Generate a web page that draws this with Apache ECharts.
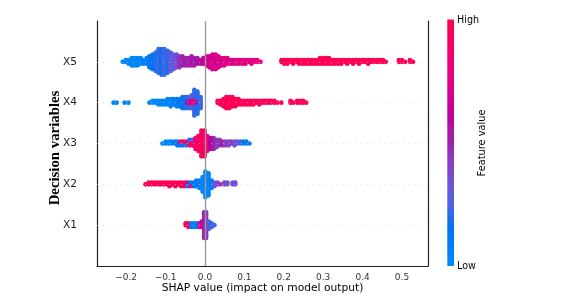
<!DOCTYPE html>
<html>
<head>
<meta charset="utf-8">
<script src="https://cdn.jsdelivr.net/npm/echarts@6/dist/echarts.min.js"></script>
<style>
html,body{margin:0;padding:0;background:#fff;}
#chart{width:564px;height:304px;}
</style>
</head>
<body>
<div id="chart"></div>
<script>
// ---------- data ----------
const features = ['X1', 'X2', 'X3', 'X4', 'X5'];
const xTickValues = [-0.2, -0.1, 0, 0.1, 0.2, 0.3, 0.4, 0.5];
const xTickLabels = ['\u22120.2', '\u22120.1', '0.0', '0.1', '0.2', '0.3', '0.4', '0.5'];
const colorbarLabels = ['Low', 'High'];

// bins: [SHAP value, number of samples, feature value (0 = low, 1 = high)]
const x5Bins = [
  [-0.209,1,0.02],[-0.201,2,0.02],[-0.194,3,0.03],[-0.186,5,0.02],[-0.179,5,0.03],[-0.171,5,0.04],
  [-0.163,4,0.05],[-0.156,3,0.06],[-0.148,4,0.08],[-0.141,7,0.12],[-0.133,9,0.15],[-0.125,11,0.2],
  [-0.118,14,0.22],[-0.110,15,0.16],[-0.103,15,0.26],[-0.095,13,0.2],[-0.087,11,0.28],[-0.080,9,0.3],
  [-0.072,8,0.36],[-0.065,7,0.45],[-0.057,6,0.5],[-0.049,5,0.52],[-0.042,5,0.5],[-0.034,6,0.55],
  [-0.027,5,0.52],[-0.019,4,0.55],[-0.011,3,0.58],[-0.004,4,0.64],[0.004,6,0.68],[0.011,7,0.7],
  [0.019,9,0.7],[0.027,9,0.71],[0.034,7,0.72],[0.042,5,0.72],[0.049,5,0.74],[0.057,4,0.74],
  [0.065,3,0.75],[0.072,3,0.76],[0.080,3,0.76],[0.087,3,0.77],[0.095,3,0.78],[0.103,3,0.78],
  [0.110,2,0.79],[0.118,3,0.8],[0.125,2,0.8],[0.133,2,0.82],[0.141,1,0.82],
  [0.194,2,0.97],[0.201,3,0.98],[0.209,3,0.97],[0.216,2,0.98],[0.224,3,0.97],[0.232,2,0.98],
  [0.239,3,0.97],[0.247,3,0.98],[0.254,3,0.97],[0.262,3,0.98],[0.270,3,0.97],[0.277,3,0.98],
  [0.285,3,0.97],[0.292,4,0.98],[0.300,4,0.97],[0.308,4,0.98],[0.315,4,0.97],[0.323,3,0.98],
  [0.330,3,0.97],[0.338,3,0.98],[0.346,3,0.97],[0.353,2,0.98],[0.361,3,0.97],[0.368,2,0.98],
  [0.376,3,0.97],[0.383,2,0.98],[0.391,3,0.97],[0.399,2,0.98],[0.406,2,0.97],[0.414,3,0.98],
  [0.422,2,0.97],[0.429,2,0.98],[0.437,2,0.97],[0.444,2,0.98],[0.452,2,0.97],[0.459,1,0.98],
  [0.492,2,0.97],[0.500,2,0.98],[0.508,1,0.97],[0.520,2,0.98],[0.528,1,0.97]
];
const x4Bins = [
  [-0.232,1,0.04],[-0.224,1,0.04],[-0.204,1,0.04],[-0.194,1,0.05],
  [-0.141,1,0.03],[-0.133,2,0.03],[-0.125,2,0.04],[-0.118,3,0.03],[-0.110,3,0.04],[-0.103,3,0.05],
  [-0.095,4,0.05],[-0.087,5,0.06],[-0.080,4,0.08],[-0.072,5,0.1],[-0.065,5,0.12],[-0.057,7,0.15],
  [-0.049,7,0.2],[-0.042,7,0.22],[-0.034,8,0.25],[-0.027,15,0.22],[-0.019,13,0.2],[-0.011,7,0.22],
  [-0.045,1,0.6],[-0.038,2,0.72],[-0.030,2,0.85],[-0.023,1,0.55],
  [0.032,2,0.97],[0.039,3,0.98],[0.047,5,0.97],[0.054,7,0.98],[0.062,7,0.97],[0.070,6,0.98],
  [0.077,5,0.97],[0.085,4,0.98],[0.092,3,0.97],[0.100,3,0.98],[0.108,3,0.97],[0.115,3,0.98],
  [0.123,3,0.97],[0.130,2,0.98],[0.138,3,0.97],[0.146,2,0.98],[0.153,2,0.97],[0.161,2,0.98],
  [0.168,2,0.97],[0.176,2,0.98],[0.184,1,0.97],[0.194,1,0.98],
  [0.217,2,0.97],[0.224,1,0.98],[0.234,2,0.97],[0.242,2,0.98],[0.249,2,0.97],[0.257,1,0.98]
];
const x3Bins = [
  [-0.108,1,0.04],[-0.100,2,0.05],[-0.092,2,0.05],[-0.085,2,0.07],[-0.077,2,0.1],[-0.070,3,0.1],
  [-0.062,2,0.92],[-0.062,1,0.15],[-0.055,2,0.95],[-0.055,1,0.12],[-0.047,2,0.88],[-0.047,1,0.2],
  [-0.039,3,0.9],[-0.039,1,0.15],[-0.032,3,0.92],[-0.032,1,0.3],
  [-0.024,7,0.85],[-0.017,9,0.9],[-0.009,15,0.95],[-0.001,15,0.92],[0.006,9,0.85],
  [0.014,7,0.6],[0.022,7,0.5],[0.029,5,0.45],[0.037,4,0.45],[0.044,3,0.5],[0.052,3,0.4],
  [0.060,3,0.4],[0.067,2,0.45],[0.075,3,0.35],[0.082,2,0.3],[0.090,2,0.25],[0.098,2,0.15],
  [0.105,2,0.1],[0.113,1,0.08]
];
const x2Bins = [
  [-0.151,1,0.97],[-0.143,2,0.98],[-0.135,2,0.97],[-0.128,2,0.98],[-0.120,2,0.97],[-0.113,2,0.98],
  [-0.105,2,0.97],[-0.098,2,0.98],[-0.090,3,0.97],[-0.082,2,0.98],[-0.075,3,0.97],[-0.067,2,0.98],
  [-0.060,3,0.97],[-0.052,3,0.9],[-0.044,2,0.6],[-0.044,1,0.1],[-0.037,2,0.15],[-0.037,1,0.85],
  [-0.029,3,0.15],[-0.022,4,0.1],[-0.014,5,0.08],[-0.006,9,0.05],[0.001,15,0.03],[0.009,13,0.05],
  [0.017,5,0.1],[0.024,3,0.3],[0.032,2,0.4],[0.039,1,0.45],[0.049,2,0.4],[0.057,2,0.35],
  [0.070,2,0.3],[0.077,2,0.4]
];
const x1Bins = [
  [-0.049,2,0.97],[-0.042,3,0.9],[-0.034,3,0.1],[-0.027,3,0.08],[-0.019,3,0.12],[-0.013,3,0.8],
  [-0.008,4,0.65],[-0.002,15,0.5],[0.003,15,0.45],[0.010,5,0.3],[0.017,3,0.2],[0.024,1,0.25]
];
const rowBins = [x1Bins, x2Bins, x3Bins, x4Bins, x5Bins];

// ---------- SHAP red_blue colormap (Lch interpolation as in shap) ----------
function lch2rgb(L, C, h) {
  const a = C * Math.cos(h), b = C * Math.sin(h);
  const fy = (L + 16) / 116, fx = a / 500 + fy, fz = fy - b / 200;
  const inv = t => (t * t * t > 0.008856 ? t * t * t : (t - 16 / 116) / 7.787);
  const X = 0.95047 * inv(fx), Y = 1.0 * inv(fy), Z = 1.08883 * inv(fz);
  let r = 3.2404542 * X - 1.5371385 * Y - 0.4985314 * Z;
  let g = -0.9692660 * X + 1.8760108 * Y + 0.0415560 * Z;
  let bb = 0.0556434 * X - 0.2040259 * Y + 1.0572252 * Z;
  const gam = c => { c = c > 0.0031308 ? 1.055 * Math.pow(c, 1 / 2.4) - 0.055 : 12.92 * c; return Math.round(Math.min(1, Math.max(0, c)) * 255); };
  return 'rgb(' + gam(r) + ',' + gam(g) + ',' + gam(bb) + ')';
}
const blueLch = [54, 70, 4.6588], redLch = [54, 90, 0.35470565 + 2 * Math.PI], lMid = 40;
const cmap = [];
const NSTOP = 21;
for (let i = 0; i < NSTOP; i++) {
  const t = i / (NSTOP - 1);
  const L = t < 0.5 ? blueLch[0] + (lMid - blueLch[0]) * (t / 0.5) : lMid + (redLch[0] - lMid) * ((t - 0.5) / 0.5);
  const C = blueLch[1] + (redLch[1] - blueLch[1]) * t;
  const h = blueLch[2] + (redLch[2] - blueLch[2]) * t;
  cmap.push(lch2rgb(L, C, h));
}

// ---------- beeswarm layout (as in shap summary_plot) ----------
function swarm(bins, row) {
  const groups = new Map();
  bins.forEach(b => { if (!groups.has(b[0])) groups.set(b[0], []); groups.get(b[0]).push(b); });
  const pts = []; let maxLayer = 0;
  groups.forEach(list => {
    let layer = 0;
    list.forEach(([v, n, f]) => {
      for (let i = 0; i < n; i++) {
        const ys = Math.ceil(layer / 2) * ((layer % 2) * 2 - 1);
        pts.push([v, ys, f]);
        if (ys > maxLayer) maxLayer = ys;
        layer++;
      }
    });
  });
  const scale = 0.9 * 0.4 / (maxLayer + 1);
  return pts.map(p => [p[0], row + p[1] * scale, p[2]]);
}
let points = [];
rowBins.forEach((bins, i) => { points = points.concat(swarm(bins, i)); });

// ---------- chart ----------
const chart = echarts.init(document.getElementById('chart'), null, { renderer: 'canvas' });
const FONT = '"DejaVu Sans", sans-serif';
const gridL = 97, gridT = 21, gridR = 428, gridB = 266;
chart.setOption({
  animation: false,
  grid: { left: gridL, top: gridT, right: 564 - gridR, bottom: 304 - gridB, containLabel: false },
  xAxis: {
    type: 'value', min: -0.274, max: 0.566,
    axisLine: { show: true, onZero: false, lineStyle: { color: '#222', width: 1.2 } },
    axisTick: { show: false },
    splitLine: { show: false },
    axisLabel: {
      customValues: xTickValues,
      formatter: v => { const k = xTickValues.findIndex(t => Math.abs(t - v) < 1e-9); return k >= 0 ? xTickLabels[k] : ''; },
      color: '#333', fontSize: 9, fontFamily: FONT, margin: 7
    }
  },
  yAxis: [{
    type: 'value', min: -1, max: 5, interval: 1,
    axisLine: { show: true, onZero: false, lineStyle: { color: '#222', width: 1.2 } },
    axisTick: { show: false },
    splitLine: { show: false },
    axisLabel: {
      formatter: v => (v >= 0 && v < features.length ? features[v] : ''),
      color: '#222', fontSize: 10.6, fontFamily: FONT, margin: 20
    }
  }, {
    type: 'value', min: -1, max: 5, position: 'right',
    axisLine: { show: true, onZero: false, lineStyle: { color: '#222', width: 1.2 } },
    axisTick: { show: false }, axisLabel: { show: false }, splitLine: { show: false }
  }],
  visualMap: {
    show: false, type: 'continuous', min: 0, max: 1, dimension: 2, seriesIndex: 1,
    inRange: { color: cmap }
  },
  series: [{
    type: 'scatter', data: [], z: 1, silent: true,
    markLine: {
      silent: true, symbol: ['none', 'none'], label: { show: false },
      data: [{ xAxis: 0, lineStyle: { color: '#999', width: 1.4, type: 'solid' } }]
        .concat(features.map((f, i) => ({ yAxis: i, lineStyle: { color: '#cfcfcf', width: 0.6, type: [1, 5] } })))
    }
  }, {
    type: 'scatter', data: points, z: 3, symbolSize: 4.6,
    itemStyle: { opacity: 1, borderWidth: 0 }
  }],
  graphic: [
    { type: 'text', x: (gridL + gridR) / 2, y: 288, style: { text: 'SHAP value (impact on model output)', font: '10.7px ' + FONT, fill: '#000', align: 'center', verticalAlign: 'middle' } },
    { type: 'text', x: 55, y: 148, rotation: Math.PI / 2, style: { text: 'Decision variables', font: 'bold 14.8px "Liberation Serif", "Times New Roman", serif', fill: '#000', align: 'center', verticalAlign: 'middle' } },
    { type: 'rect', shape: { x: 447.3, y: 19.5, width: 6.7, height: 246.5 },
      style: { fill: new echarts.graphic.LinearGradient(0, 1, 0, 0, cmap.map((c, i) => ({ offset: i / (cmap.length - 1), color: c }))) } },
    { type: 'text', x: 457, y: 20, style: { text: colorbarLabels[1], font: '9.6px ' + FONT, fill: '#000', align: 'left', verticalAlign: 'middle' } },
    { type: 'text', x: 457, y: 266, style: { text: colorbarLabels[0], font: '9.6px ' + FONT, fill: '#000', align: 'left', verticalAlign: 'middle' } },
    { type: 'text', x: 482.5, y: 143, rotation: Math.PI / 2, style: { text: 'Feature value', font: '9.8px ' + FONT, fill: '#000', align: 'center', verticalAlign: 'middle' } }
  ]
});
</script>
</body>
</html>
